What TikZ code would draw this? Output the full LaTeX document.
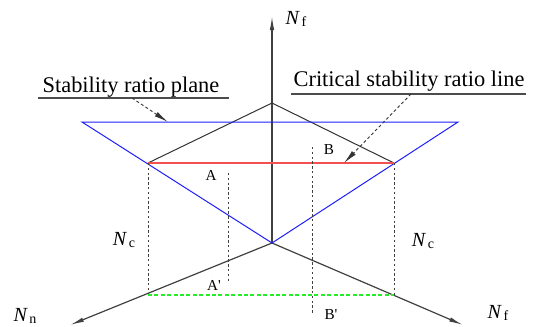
\documentclass[tikz,border=0pt]{standalone}
\usepackage{xcolor}
\usepackage{fontspec}
\setmainfont{LiberationSerif}[Extension=.ttf, UprightFont=*-Regular,
  ItalicFont=*-Italic, BoldFont=*-Bold, BoldItalicFont=*-BoldItalic]
\usetikzlibrary{arrows.meta}

\definecolor{planeblue}{RGB}{30,30,250}
\definecolor{critred}{RGB}{245,80,80}
\definecolor{footgreen}{RGB}{40,235,40}

\newcommand{\nlab}[2]{\textit{#1}\kern0.8pt\raisebox{-0.25ex}{\fontsize{7}{8}\selectfont #2}}

\begin{document}
\begin{tikzpicture}[
  x=0.5pt, y=-0.5pt,
  axis/.style={draw=black!75, line width=0.6pt, -{Latex[length=7pt,width=2.2pt]}},
  edge/.style={draw=black!80, line width=0.5pt},
  plane/.style={draw=planeblue, line width=0.5pt},
  crit/.style={draw=critred, line width=0.6pt},
  proj/.style={draw=black!75, line width=0.5pt, dash pattern=on 1.2pt off 1.2pt},
  foot/.style={draw=footgreen, line width=0.7pt, dash pattern=on 2pt off 1.2pt},
  lead/.style={draw=black!80, line width=0.45pt, dash pattern=on 1.5pt off 1.2pt,
               -{Latex[length=7pt,width=2.6pt]}},
  under/.style={draw=black!70, line width=0.6pt},
  title/.style={font=\fontsize{11.2}{13}\selectfont, anchor=base, inner sep=0pt},
  axlab/.style={font=\fontsize{10}{12}\selectfont, inner sep=0pt},
  pt/.style={font=\fontsize{7.6}{9}\selectfont, inner sep=0pt}
]
  \useasboundingbox (0,0) rectangle (537,327);

  % axes
  \coordinate (O) at (272,243);
  \coordinate (up) at (272,16);
  \coordinate (nn) at (70,325);
  \coordinate (nf) at (463,325);
  \draw[axis] (O) -- (up);
  \draw[axis] (O) -- (nn);
  \draw[axis] (O) -- (nf);

  % surface points
  \coordinate (apex) at (272,103);
  \coordinate (cl) at (148,163);
  \coordinate (cr) at (394,163);
  \coordinate (pl) at (82,122);
  \coordinate (pr) at (458,122);
  \coordinate (fl) at (148,295);
  \coordinate (fr) at (394,295);

  \draw[edge] (cl) -- (apex) -- (cr);
  \draw[plane] (pl) -- (pr) -- (O) -- cycle;
  \draw[crit] (cl) -- (cr);
  \draw[proj] (cl) -- (fl);
  \draw[proj] (cr) -- (fr);
  \draw[foot] (fl) -- (fr);

  % points A and B
  \coordinate (a1) at (228,173);
  \coordinate (a2) at (228,282);
  \coordinate (b1) at (312,147);
  \coordinate (b2) at (312,314);
  \draw[proj] (a1) -- (a2);
  \draw[proj] (b1) -- (b2);
  \node[pt] (A) at (211,175) {A};
  \node[pt] (Ap) at (214,285) {A\textquotesingle};
  \node[pt] (B) at (329,150) {B};
  \node[pt] (Bp) at (331,315) {B\textquotesingle};

  % axis labels
  \node[axlab] (lfup) at (296,19) {\nlab{N}{f}};
  \node[axlab] (lnn) at (25,316) {\nlab{N}{n}};
  \node[axlab] (lfr) at (498,313) {\nlab{N}{f}};
  \node[axlab] (lcl) at (124,240) {\nlab{N}{c}};
  \node[axlab] (lcr) at (423,241) {\nlab{N}{c}};

  % callouts
  \node[title] (srp) at (131,92) {Stability ratio plane};
  \coordinate (su1) at (38,98);
  \coordinate (su2) at (229,98);
  \coordinate (s0) at (132,98);
  \coordinate (s1) at (168,122);
  \draw[under] (su1) -- (su2);
  \draw[lead] (s0) -- (s1);

  \node[title] (csl) at (409,86) {Critical stability ratio line};
  \coordinate (cu1) at (291,94);
  \coordinate (cu2) at (526,94);
  \coordinate (c0) at (411,94);
  \coordinate (c1) at (344,163);
  \draw[under] (cu1) -- (cu2);
  \draw[lead] (c0) -- (c1);
\end{tikzpicture}
\end{document}
